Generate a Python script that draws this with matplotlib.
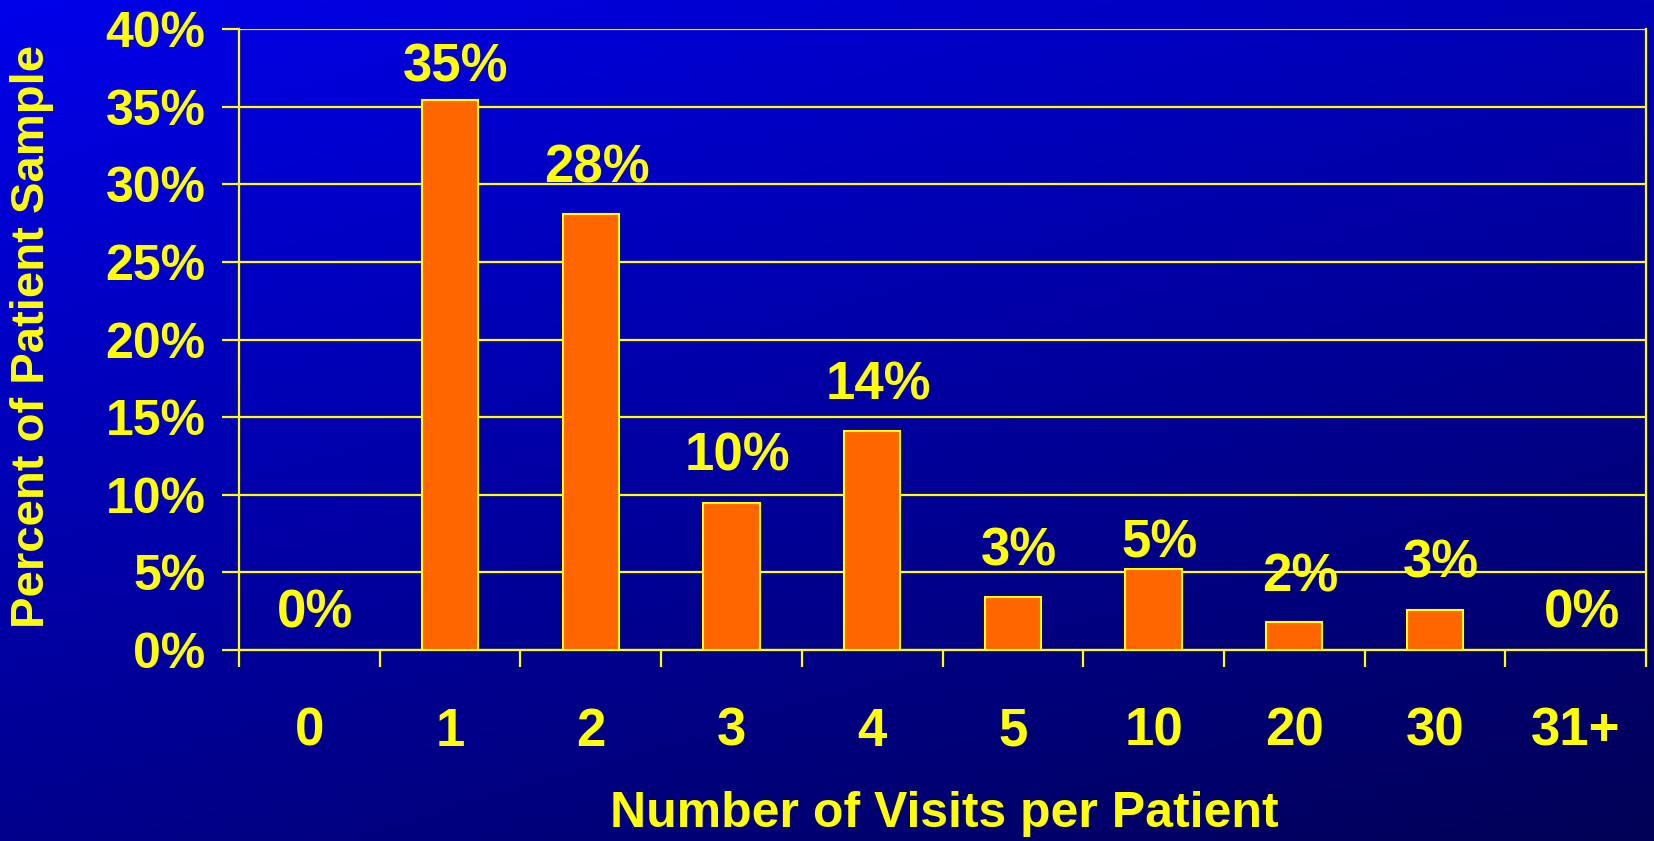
import numpy as np
import matplotlib.pyplot as plt
from matplotlib.ticker import FixedLocator

visits = ['0', '1', '2', '3', '4', '5', '10', '20', '30', '31+']
percent = [0.0, 35.4, 28.1, 9.5, 14.1, 3.4, 5.2, 1.8, 2.6, 0.0]
labels = ['0%', '35%', '28%', '10%', '14%', '3%', '5%', '2%', '3%', '0%']
yticks = [0, 5, 10, 15, 20, 25, 30, 35, 40]

yellow = '#FFFF00'
orange = '#FF6600'
plt.rcParams['font.family'] = ['Liberation Sans', 'DejaVu Sans']
plt.rcParams['font.weight'] = 'bold'

fig = plt.figure(figsize=(16.54, 8.41), dpi=100)

# background gradient, bright blue top-left to navy bottom-right
bg = fig.add_axes([0, 0, 1, 1])
gx, gy = np.meshgrid(np.linspace(0, 1, 400), np.linspace(0, 1, 200))
blue = (235 - 95 * gy - 55 * gx) / 255.0
img = np.zeros((200, 400, 3))
img[..., 2] = blue
bg.imshow(img, aspect='auto', extent=[0, 1, 0, 1], origin='upper')
bg.axis('off')

ax = fig.add_axes([239 / 1654, 1 - 650 / 841, (1646 - 239) / 1654, (650 - 29) / 841])
ax.patch.set_alpha(0)

x = np.arange(len(visits))
ax.bar(x, percent, width=0.4, color=orange, edgecolor=yellow, linewidth=1.5, zorder=3)

# label offsets above bar tops, in pixels
offsets = [37, 33, 45, 46, 46, 46, 26, 45, 46, 37]
for xi, v, lab, off in zip(x, percent, labels, offsets):
    ax.annotate(lab, (xi, v), xytext=(6 * 0.72, off * 0.72), textcoords='offset points',
                ha='center', va='center', color=yellow, fontsize=38, fontweight='bold')

ax.set_xlim(-0.5, 9.5)
ax.set_ylim(0, 40)
ax.set_yticks(yticks)
ax.set_yticklabels([f'{t}%' for t in yticks])
ax.set_xticks(x)
ax.set_xticklabels(visits)
ax.xaxis.set_minor_locator(FixedLocator(np.arange(-0.5, 10, 1)))
ax.yaxis.grid(True, color=yellow, linewidth=1.6, zorder=0)
ax.set_axisbelow(True)

ax.tick_params(axis='y', colors=yellow, labelsize=36, length=12, width=1.6, pad=12)
ax.tick_params(axis='x', which='major', colors=yellow, labelsize=38, length=0, pad=41)
ax.tick_params(axis='x', which='minor', color=yellow, length=12, width=1.6)

for s in ['left', 'bottom', 'right']:
    ax.spines[s].set_color(yellow)
    ax.spines[s].set_linewidth(1.6)
ax.spines['top'].set_visible(False)

fig.text(944 / 1654, 1 - 814 / 841, 'Number of Visits per Patient', ha='center', va='center',
         color=yellow, fontsize=36, fontweight='bold')
fig.text(32 / 1654, 1 - 336 / 841, 'Percent of Patient Sample', ha='center', va='center',
         rotation=90, color=yellow, fontsize=34, fontweight='bold')

fig.savefig('out.png', dpi=100)
